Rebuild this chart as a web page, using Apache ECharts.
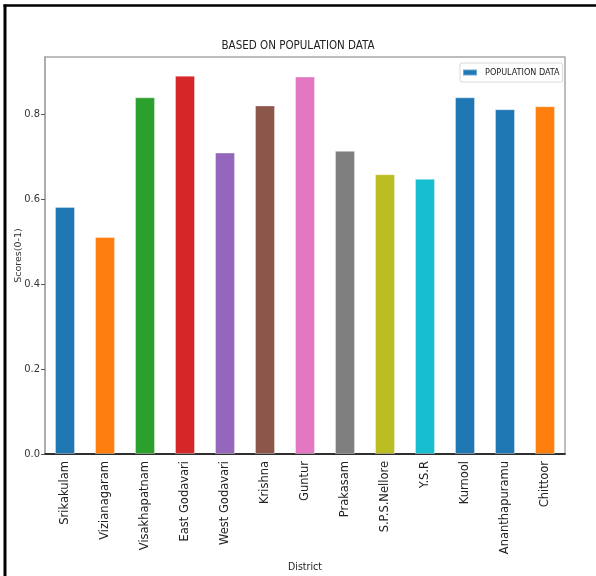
<!DOCTYPE html>
<html>
<head>
<meta charset="utf-8">
<script src="https://cdn.jsdelivr.net/npm/echarts@6/dist/echarts.min.js"></script>
<style>
  html, body { margin: 0; padding: 0; background: #fff; }
  #chart { width: 596px; height: 576px; }
</style>
</head>
<body>
<div id="chart"></div>
<script>
// District names along the x axis
const districts = [
  'Srikakulam', 'Vizianagaram', 'Visakhapatnam', 'East Godavari', 'West Godavari',
  'Krishna', 'Guntur', 'Prakasam', 'S.P.S.Nellore', 'Y.S.R',
  'Kurnool', 'Ananthapuramu', 'Chittoor'
];

// Population-based scores (0-1) per district
const populationScores = [
  0.582, 0.511, 0.840, 0.891, 0.710,
  0.821, 0.889, 0.714, 0.659, 0.648,
  0.840, 0.812, 0.819
];

// Bar colours per district
const barColors = [
  '#1f77b4', '#ff7f0e', '#2ca02c', '#d62728', '#9467bd',
  '#8c564b', '#e377c2', '#7f7f7f', '#bcbd22', '#17becf',
  '#1f77b4', '#1f77b4', '#ff7f0e'
];

// Y axis tick positions
const yTicks = [0, 0.2, 0.4, 0.6, 0.8];

const narrow = "'Liberation Sans Narrow', 'DejaVu Sans Condensed', 'Liberation Sans', sans-serif";
const wide = "'DejaVu Sans', sans-serif";

const chart = echarts.init(document.getElementById('chart'), null, { renderer: 'canvas' });

chart.setOption({
  animation: false,
  backgroundColor: '#ffffff',
  title: {
    text: 'BASED ON POPULATION DATA',
    left: 'center',
    top: 35,
    textStyle: { fontFamily: narrow, fontSize: 11.5, fontWeight: 'normal', color: '#222' }
  },
  legend: {
    left: 460,
    top: 63,
    orient: 'horizontal',
    itemWidth: 14,
    itemHeight: 6,
    itemGap: 6,
    padding: [5, 3, 5, 2],
    borderColor: '#d8d8d8',
    borderWidth: 1,
    borderRadius: 2,
    backgroundColor: '#fff',
    textStyle: { fontFamily: narrow, fontSize: 9, color: '#222', padding: [0, 0, 0, 3] },
    data: [{ name: 'POPULATION DATA', icon: 'rect' }]
  },
  grid: {
    left: 45, right: 31, top: 57, bottom: 122,
    outerBoundsMode: 'none',
    containLabel: false,
    show: true,
    borderColor: '#a8a8a8',
    borderWidth: 1.5,
    backgroundColor: 'transparent'
  },
  xAxis: {
    type: 'category',
    data: districts,
    name: 'District',
    nameLocation: 'middle',
    nameGap: 105,
    nameTextStyle: { fontFamily: narrow, fontSize: 10.5, color: '#222', verticalAlign: 'top' },
    axisLine: { lineStyle: { color: '#000', width: 1.5 } },
    axisTick: { alignWithLabel: true, length: 4, lineStyle: { color: '#333', width: 1 } },
    axisLabel: {
      rotate: 90,
      interval: 0,
      margin: 7,
      fontFamily: wide,
      fontSize: 11.5,
      color: '#222'
    },
    splitLine: { show: false }
  },
  yAxis: {
    type: 'value',
    min: 0,
    max: 0.935,
    interval: 0.2,
    name: 'Scores(0-1)',
    nameLocation: 'middle',
    nameGap: 21,
    nameMoveOverlap: false,
    nameTextStyle: { fontFamily: wide, fontSize: 9.5, color: '#333' },
    axisLine: { show: true, lineStyle: { color: '#a8a8a8', width: 1.5 } },
    axisTick: {
      show: true, length: 4, customValues: yTicks,
      lineStyle: { color: '#555', width: 1 }
    },
    axisLabel: {
      customValues: yTicks,
      margin: 5,
      fontFamily: narrow,
      fontSize: 11,
      color: '#333',
      formatter: v => v.toFixed(1)
    },
    splitLine: { show: false }
  },
  series: [{
    name: 'POPULATION DATA',
    type: 'bar',
    barWidth: '50%',
    itemStyle: { color: '#1f77b4', borderColor: 'rgba(255,255,255,0.35)', borderWidth: 1 },
    data: populationScores.map((v, i) => ({ value: v, itemStyle: { color: barColors[i] } }))
  }],
  graphic: [
    { type: 'line', shape: { x1: 3.5, y1: 5.5, x2: 596, y2: 5.5 }, style: { stroke: '#000', lineWidth: 2.5 }, silent: true },
    { type: 'line', shape: { x1: 5, y1: 4.5, x2: 5, y2: 576 }, style: { stroke: '#000', lineWidth: 3 }, silent: true }
  ]
});
</script>
</body>
</html>
